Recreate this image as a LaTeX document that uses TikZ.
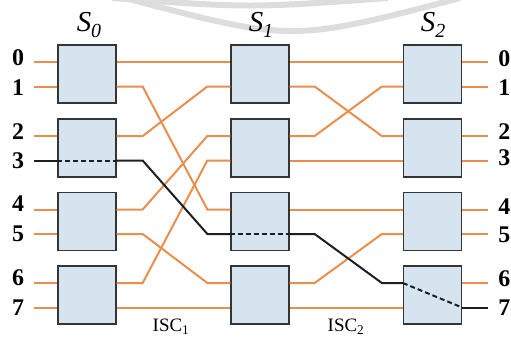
\documentclass[tikz,border=0pt]{standalone}
\usepackage{fontspec}
\setmainfont{Liberation Serif}
\usetikzlibrary{calc}
\definecolor{wirecol}{HTML}{E88E4E}
\definecolor{boxfill}{HTML}{D6E4EF}
\definecolor{boxline}{HTML}{353535}
\definecolor{swoosh}{HTML}{DDDDDD}
\begin{document}
\begin{tikzpicture}[x=1bp,y=-1bp,
  switchbox/.style={draw=boxline, line width=1.3bp, fill=boxfill,
    minimum width=58bp, minimum height=58bp, inner sep=0pt},
  wire/.style={draw=wirecol, line width=2bp},
  route/.style={draw=black!88, line width=2bp},
  routedash/.style={route, dash pattern=on 5bp off 3bp},
  portlabel/.style={inner sep=0pt, font=\fontsize{24}{24}\selectfont\bfseries},
  stagelabel/.style={inner sep=0pt, font=\fontsize{29}{29}\selectfont\itshape},
  isclabel/.style={inner sep=0pt, font=\fontsize{19}{19}\selectfont}]
\useasboundingbox (0,0) rectangle (511,338);
\clip (0,0) rectangle (511,338);

% background swooshes
\draw[swoosh, line width=6bp] (125,-2) .. controls (292,42) .. (460,-2);
\draw[swoosh, line width=6bp] (112,-2) .. controls (250,8) .. (388,-2);

% switch boxes of the three stages
\foreach \c/\x in {0/87,1/260,2/432.5}
  \foreach \r/\y in {0/74,1/148,2/221.5,3/295}
    \node[switchbox] (sw\c\r) at (\x,\y) {};

% port coordinates on each switch
\foreach \c in {0,1,2}
  \foreach \r in {0,...,3} {
    \pgfmathtruncatemacro\pa{2*\r}
    \pgfmathtruncatemacro\pb{2*\r+1}
    \coordinate (in\c-\pa)  at ($(sw\c\r.west)+(0,-12)$);
    \coordinate (in\c-\pb)  at ($(sw\c\r.west)+(0,12.5)$);
    \coordinate (out\c-\pa) at ($(sw\c\r.east)+(0,-12)$);
    \coordinate (out\c-\pb) at ($(sw\c\r.east)+(0,12.5)$);
  }

% line ends and labels on both sides
\foreach \k/\ly/\ry in {0/57.5/59,1/87.5/88,2/131.5/132,3/160.5/158,4/203.5/207,5/233.5/235,6/277.5/279,7/307.5/308} {
  \coordinate (src\k) at ($(in0-\k)+(-23,0)$);
  \coordinate (dst\k) at ($(out2-\k)+(26,0)$);
  \node[portlabel] (inl\k) at (18,\ly) {\k};
  \node[portlabel, anchor=east] (outl\k) at (510.5,\ry) {\k};
}
\foreach \k in {0,1,2,4,5,6,7}
  \draw[wire] (src\k) -- (in0-\k);
\foreach \k in {0,1,2,3,4,5,6}
  \draw[wire] (out2-\k) -- (dst\k);

% interstage connection ISC1
\foreach \a/\b in {0/0,1/4,2/1,4/2,5/6,6/3,7/7}
  \draw[wire] (out0-\a) -- ++(26,0) -- ($(in1-\b)+(-23,0)$) -- (in1-\b);
% interstage connection ISC2
\foreach \a/\b in {0/0,1/2,2/1,3/3,4/4,6/5,7/7}
  \draw[wire] (out1-\a) -- ++(25,0) -- ($(in2-\b)+(-21,0)$) -- (in2-\b);

% highlighted route from input 3 to output 7
\draw[route] (src3) -- (in0-3);
\draw[routedash] (in0-3) -- (out0-3);
\draw[route] (out0-3) -- ++(26,0) -- ($(in1-5)+(-23,0)$) -- (in1-5);
\draw[routedash] (in1-5) -- (out1-5);
\draw[route] (out1-5) -- ++(25,0) -- ($(in2-6)+(-21,0)$) -- (in2-6);
\draw[routedash] (in2-6) -- (out2-7);
\draw[route] (out2-7) -- (dst7);

% stage and connection labels
\node[stagelabel] (st0) at (89,25) {S\raisebox{-6pt}{\fontsize{20}{20}\selectfont 0}};
\node[stagelabel] (st1) at (261,25) {S\raisebox{-6pt}{\fontsize{20}{20}\selectfont 1}};
\node[stagelabel] (st2) at (433,25) {S\raisebox{-6pt}{\fontsize{20}{20}\selectfont 2}};
\node[isclabel] (isc1) at (171,327) {ISC\textsubscript{1}};
\node[isclabel] (isc2) at (346,327) {ISC\textsubscript{2}};
\end{tikzpicture}
\end{document}
